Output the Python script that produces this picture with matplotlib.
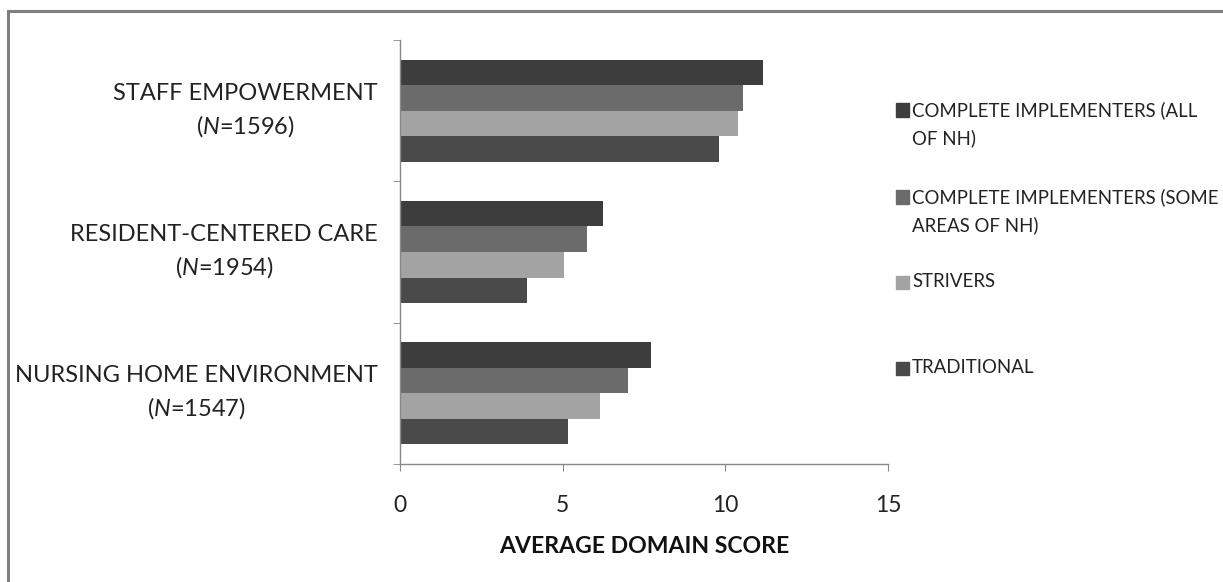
import matplotlib.pyplot as plt
from matplotlib.patches import Rectangle
from matplotlib.lines import Line2D
import numpy as np

plt.rcParams['font.family'] = ['Lato', 'DejaVu Sans']
plt.rcParams['mathtext.fontset'] = 'custom'
plt.rcParams['mathtext.it'] = 'Lato:italic'
plt.rcParams['mathtext.rm'] = 'Lato'

categories = ["STAFF EMPOWERMENT", "RESIDENT-CENTERED CARE", "NURSING HOME ENVIRONMENT"]
n_values = [1596, 1954, 1547]
series = ["COMPLETE IMPLEMENTERS (ALL\nOF NH)",
          "COMPLETE IMPLEMENTERS (SOME\nAREAS OF NH)",
          "STRIVERS",
          "TRADITIONAL"]
all_nh = [11.15, 6.25, 7.7]
some_nh = [10.55, 5.75, 7.0]
strivers = [10.4, 5.05, 6.15]
traditional = [9.8, 3.9, 5.15]
colors = ["#3d3d3d", "#6b6b6b", "#a3a3a3", "#4a4a4a"]

fig = plt.figure(figsize=(12.23, 5.82), dpi=100)
ax = fig.add_axes([400/1223, 1-464/582, 488/1223, 424/582])

# frame around the chart area
fig.add_artist(Line2D([8/1223, 8/1223], [0, 1-11/582], transform=fig.transFigure, color='#7f7f7f', lw=2.2))
fig.add_artist(Line2D([8/1223, 1], [1-11/582, 1-11/582], transform=fig.transFigure, color='#7f7f7f', lw=2.2))

data = [all_nh, some_nh, strivers, traditional]
bh = 0.181
ypos = np.arange(len(categories))  # 0 top
for i, vals in enumerate(data):
    off = (i - 1.5) * bh
    ax.barh(ypos + off, vals, height=bh, color=colors[i], edgecolor='none', label=series[i])

ax.set_ylim(2.5, -0.5)
ax.set_xlim(0, 15)
ax.set_xticks([0, 5, 10, 15])
ax.tick_params(axis='x', labelsize=16.5, length=5, color='#888888', pad=17, labelcolor='#222222')
ax.set_yticks([])
ax.set_yticks([-0.5, 0.5, 1.5, 2.5], minor=True)
ax.tick_params(axis='y', which='minor', length=5, color='#888888')
for s in ['top', 'right']:
    ax.spines[s].set_visible(False)
for s in ['left', 'bottom']:
    ax.spines[s].set_color('#888888')
    ax.spines[s].set_linewidth(1.0)

ax.set_xlabel("AVERAGE DOMAIN SCORE", fontsize=16.6, fontweight='bold', labelpad=15, color='#111111')

for i, (c, n) in enumerate(zip(categories, n_values)):
    ax.text(-22/488, ypos[i], c + "\n(" + r"$\it{N}$" + "=%d)" % n,
            transform=ax.get_yaxis_transform(), ha='right', va='center',
            multialignment='center', fontsize=17, color='#222222', linespacing=1.45)

# legend
leg_y = [110, 197, 282, 368]
for i, lab in enumerate(series):
    y = 1 - leg_y[i] / 582
    fig.add_artist(Rectangle((896/1223, y - 6.5/582), 13/1223, 13/582,
                             transform=fig.transFigure, color=colors[i]))
    fig.text(912/1223, y + 9/582, lab, ha='left', va='top', fontsize=13.4,
             color='#222222', linespacing=1.7)

fig.savefig("out.png", dpi=100)
